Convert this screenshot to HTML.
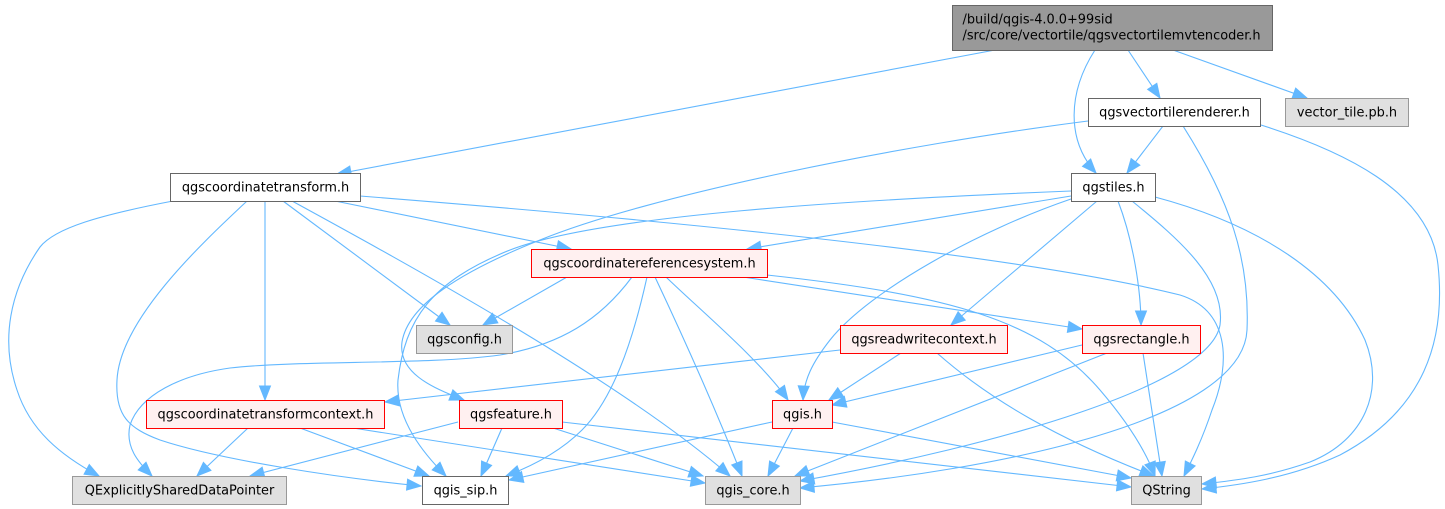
<!DOCTYPE html>
<html><head><meta charset="utf-8">
<style>
html,body{margin:0;padding:0;background:#fff;}
svg{display:block}
text{font-family:"DejaVu Sans","Liberation Sans",sans-serif;font-size:12.9px;fill:#000}
.e{fill:none;stroke:#63b8ff;stroke-width:1.1;marker-end:url(#a)}
</style></head><body>
<svg width="1445" height="509" viewBox="0 0 1445 509" xmlns="http://www.w3.org/2000/svg">
<defs>
<marker id="a" markerUnits="userSpaceOnUse" markerWidth="17" markerHeight="15" viewBox="-1 -1 17 15" refX="14" refY="6" orient="auto" overflow="visible">
<path d="M0,0.5 L14,6 L0,11.5 z" fill="#63b8ff" stroke="#63b8ff" stroke-width="1"/>
</marker>
</defs>
<rect width="1445" height="509" fill="#fff"/>

<!-- edges -->
<path class="e" d="M995,50 L337,174"/>
<path class="e" d="M1095,50 C1068,92 1066,140 1096,173"/>
<path class="e" d="M1128,50 L1160,98"/>
<path class="e" d="M1173,50 L1307,98"/>
<path class="e" d="M1163,126 L1127,173"/>
<path class="e" d="M1088,121 C900,145 650,195 540,240 C460,272 408,305 402,342 C398,372 430,387 464,400"/>
<path class="e" d="M1183,126 C1230,200 1250,260 1247,330 C1243,420 1000,470 800,488"/>
<path class="e" d="M1261,125 C1340,150 1430,190 1438,265 C1446,340 1425,410 1340,455 C1290,478 1240,485 1202,489"/>
<path class="e" d="M173,201 C100,215 55,228 40,247 C10,290 0,340 17,390 C30,430 60,455 99,476"/>
<path class="e" d="M247,201 C200,245 120,320 117,380 C115,415 128,428 160,440 C220,460 340,478 421,486"/>
<path class="e" d="M265,201 L265,400"/>
<path class="e" d="M283,201 L450,325"/>
<path class="e" d="M292,201 C400,260 620,380 730,476"/>
<path class="e" d="M335,201 L571,249"/>
<path class="e" d="M360,196 C600,215 1000,250 1180,295 C1228,310 1232,360 1212,410 C1202,440 1192,460 1184,476"/>
<path class="e" d="M1071,191 C850,200 600,215 510,250 C430,282 405,320 398,380 C395,420 425,455 446,476"/>
<path class="e" d="M1071,196 L747,249"/>
<path class="e" d="M1071,199 C980,230 870,290 830,340 C812,363 804,380 803,400"/>
<path class="e" d="M1097,201 L951,325"/>
<path class="e" d="M1118,201 C1133,240 1141,290 1141,325"/>
<path class="e" d="M1132,201 C1180,240 1226,280 1220,325 C1210,385 1000,445 800,481"/>
<path class="e" d="M1155,197 C1260,225 1335,275 1365,340 C1385,390 1365,440 1310,462 C1270,476 1240,480 1202,484"/>
<path class="e" d="M567,277 L483,325"/>
<path class="e" d="M632,277 C600,320 560,345 500,355 C430,365 300,360 230,368 C180,375 140,395 130,425 C125,447 138,462 152,476"/>
<path class="e" d="M647,277 C632,345 612,400 582,430 C562,450 535,465 506,476"/>
<path class="e" d="M655,277 C680,330 712,400 742,476"/>
<path class="e" d="M666,277 C700,310 760,360 788,400"/>
<path class="e" d="M743,277 L1082,329"/>
<path class="e" d="M767,275 C950,295 1040,320 1100,390 C1130,425 1146,452 1155,476"/>
<path class="e" d="M840,350 L385,402"/>
<path class="e" d="M901,353 L829,400"/>
<path class="e" d="M937,353 C990,400 1060,440 1154,476"/>
<path class="e" d="M248,428 L197,476"/>
<path class="e" d="M300,428 L429,476"/>
<path class="e" d="M353,428 L705,483"/>
<path class="e" d="M458,422 L250,476"/>
<path class="e" d="M502,428 L481,476"/>
<path class="e" d="M553,428 L703,476"/>
<path class="e" d="M562,422 L1131,487"/>
<path class="e" d="M772,422 L509,480"/>
<path class="e" d="M793,428 L768,476"/>
<path class="e" d="M832,422 L1131,478"/>
<path class="e" d="M1082,345 L832,405"/>
<path class="e" d="M1107,353 L795,476"/>
<path class="e" d="M1143,353 L1162,476"/>

<!-- nodes -->
<rect x="952.5" y="5.5" width="320" height="45" fill="#999999" stroke="#666666"/>
<text x="962.5" y="23.5">/build/qgis-4.0.0+99sid</text>
<text x="962.5" y="39.5">/src/core/vectortile/qgsvectortilemvtencoder.h</text>

<rect x="1088.5" y="98.5" width="172" height="28" fill="#fff" stroke="#666666"/>
<text x="1174.5" y="116.5" text-anchor="middle">qgsvectortilerenderer.h</text>

<rect x="1285.5" y="98.5" width="123" height="28" fill="#e0e0e0" stroke="#999999"/>
<text x="1347" y="116.5" text-anchor="middle">vector_tile.pb.h</text>

<rect x="1071.5" y="173.5" width="84" height="28" fill="#fff" stroke="#666666"/>
<text x="1113.5" y="191.5" text-anchor="middle">qgstiles.h</text>

<rect x="170.5" y="173.5" width="190" height="28" fill="#fff" stroke="#666666"/>
<text x="265.5" y="191.5" text-anchor="middle">qgscoordinatetransform.h</text>

<rect x="531.5" y="249.5" width="236" height="28" fill="#fff0f0" stroke="#ff0000"/>
<text x="649.5" y="267.5" text-anchor="middle">qgscoordinatereferencesystem.h</text>

<rect x="416.5" y="325.5" width="96" height="28" fill="#e0e0e0" stroke="#999999"/>
<text x="464.5" y="343.5" text-anchor="middle">qgsconfig.h</text>

<rect x="840.5" y="325.5" width="167" height="28" fill="#fff0f0" stroke="#ff0000"/>
<text x="924" y="343.5" text-anchor="middle">qgsreadwritecontext.h</text>

<rect x="1082.5" y="325.5" width="118" height="28" fill="#fff0f0" stroke="#ff0000"/>
<text x="1141.5" y="343.5" text-anchor="middle">qgsrectangle.h</text>

<rect x="146.5" y="400.5" width="238" height="28" fill="#fff0f0" stroke="#ff0000"/>
<text x="265.5" y="418.5" text-anchor="middle">qgscoordinatetransformcontext.h</text>

<rect x="459.5" y="400.5" width="103" height="28" fill="#fff0f0" stroke="#ff0000"/>
<text x="511" y="418.5" text-anchor="middle">qgsfeature.h</text>

<rect x="772.5" y="400.5" width="60" height="28" fill="#fff0f0" stroke="#ff0000"/>
<text x="802.5" y="418.5" text-anchor="middle">qgis.h</text>

<rect x="72.5" y="476.5" width="214" height="28" fill="#e0e0e0" stroke="#999999"/>
<text x="179.5" y="494.5" text-anchor="middle">QExplicitlySharedDataPointer</text>

<rect x="422.5" y="476.5" width="86" height="28" fill="#fff" stroke="#666666"/>
<text x="465.5" y="494.5" text-anchor="middle">qgis_sip.h</text>

<rect x="705.5" y="476.5" width="95" height="28" fill="#e0e0e0" stroke="#999999"/>
<text x="753" y="494.5" text-anchor="middle">qgis_core.h</text>

<rect x="1131.5" y="476.5" width="70" height="28" fill="#e0e0e0" stroke="#999999"/>
<text x="1166.5" y="494.5" text-anchor="middle">QString</text>
</svg>
</body></html>
